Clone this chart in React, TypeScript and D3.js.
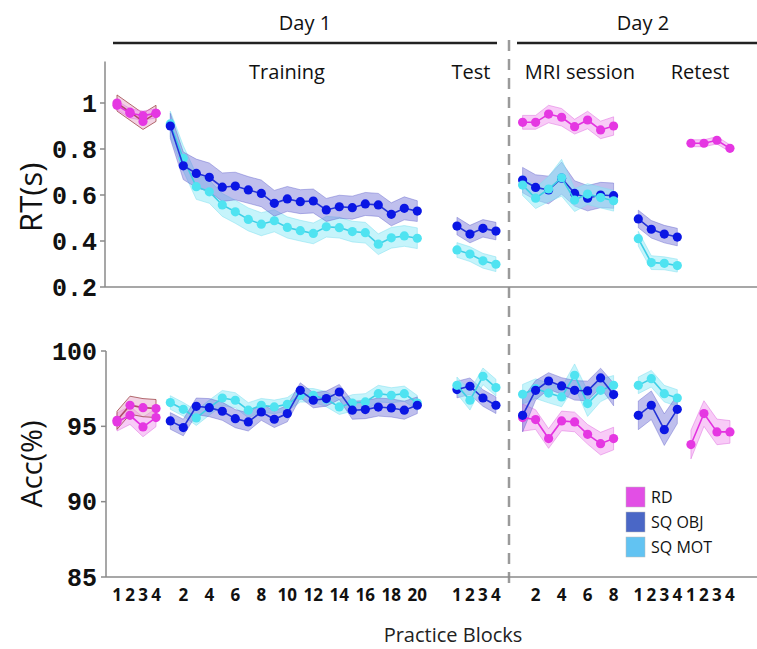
import React from 'react';
import * as d3 from 'd3';

// ---------- DATA ----------
// RT (s)
const rtRdDay1A = [0.99, 0.955, 0.945, 0.955];
const rtRdDay1AErr = [0.02, 0.02, 0.02, 0.02];
const rtRdDay1B = [1.0, 0.96, 0.92, 0.955];
const rtRdDay1BErr = [0.035, 0.035, 0.035, 0.035];
const rtObjTraining = [0.9, 0.727, 0.694, 0.677, 0.634, 0.639, 0.622, 0.607, 0.564, 0.583, 0.571, 0.574, 0.535, 0.549, 0.545, 0.561, 0.557, 0.516, 0.542, 0.53];
const rtObjTrainingErr = [0.055, 0.06, 0.062, 0.062, 0.062, 0.06, 0.058, 0.058, 0.056, 0.054, 0.052, 0.052, 0.05, 0.05, 0.05, 0.05, 0.05, 0.05, 0.05, 0.045];
const rtMotTraining = [0.909, 0.759, 0.636, 0.614, 0.557, 0.527, 0.494, 0.473, 0.488, 0.459, 0.445, 0.433, 0.462, 0.458, 0.441, 0.436, 0.386, 0.414, 0.422, 0.412];
const rtMotTrainingErr = [0.055, 0.055, 0.055, 0.05, 0.05, 0.05, 0.05, 0.05, 0.048, 0.046, 0.045, 0.045, 0.045, 0.045, 0.045, 0.045, 0.045, 0.045, 0.045, 0.045];
const rtObjTest = [0.465, 0.43, 0.455, 0.443];
const rtObjTestErr = [0.038, 0.038, 0.038, 0.038];
const rtMotTest = [0.361, 0.343, 0.314, 0.299];
const rtMotTestErr = [0.032, 0.032, 0.032, 0.032];
const rtRdMri = [0.916, 0.916, 0.952, 0.938, 0.897, 0.926, 0.883, 0.9];
const rtRdMriErr = [0.03, 0.03, 0.038, 0.038, 0.032, 0.038, 0.038, 0.04];
const rtObjMri = [0.665, 0.633, 0.622, 0.673, 0.607, 0.586, 0.6, 0.597];
const rtObjMriErr = [0.055, 0.055, 0.06, 0.07, 0.055, 0.055, 0.055, 0.055];
const rtMotMri = [0.643, 0.586, 0.626, 0.675, 0.578, 0.604, 0.589, 0.575];
const rtMotMriErr = [0.045, 0.045, 0.055, 0.08, 0.05, 0.045, 0.045, 0.045];
const rtObjRetest = [0.496, 0.451, 0.43, 0.417];
const rtObjRetestErr = [0.038, 0.038, 0.038, 0.038];
const rtMotRetest = [0.41, 0.306, 0.303, 0.293];
const rtMotRetestErr = [0.032, 0.03, 0.028, 0.028];
const rtRdRetest = [0.825, 0.825, 0.838, 0.803];
const rtRdRetestErr = [0.015, 0.015, 0.016, 0.015];

// Accuracy (%)
const accRdDay1A = [95.29, 95.73, 94.96, 95.58];
const accRdDay1AErr = [0.6, 0.6, 0.65, 0.6];
const accRdDay1B = [95.4, 96.4, 96.24, 96.18];
const accRdDay1BErr = [0.6, 0.6, 0.6, 0.6];
const accObjTraining = [95.36, 94.92, 96.33, 96.24, 96.0, 95.51, 95.29, 95.95, 95.47, 95.85, 97.39, 96.73, 96.84, 97.28, 96.07, 96.11, 96.28, 96.22, 96.07, 96.4];
const accObjTrainingErr = [0.55, 0.55, 0.55, 0.6, 0.6, 0.6, 0.6, 0.55, 0.55, 0.55, 0.5, 0.5, 0.5, 0.5, 0.6, 0.6, 0.6, 0.6, 0.6, 0.55];
const accMotTraining = [96.58, 96.13, 95.56, 96.24, 96.88, 96.73, 96.07, 96.4, 96.29, 96.46, 97.06, 97.06, 96.8, 96.29, 96.55, 96.62, 97.17, 97.06, 97.17, 96.55];
const accMotTrainingErr = [0.45, 0.45, 0.5, 0.5, 0.5, 0.5, 0.5, 0.45, 0.45, 0.45, 0.45, 0.45, 0.5, 0.5, 0.55, 0.55, 0.55, 0.5, 0.5, 0.5];
const accObjTest = [97.44, 97.66, 96.88, 96.4];
const accObjTestErr = [0.55, 0.55, 0.55, 0.55];
const accMotTest = [97.72, 96.73, 98.32, 97.57];
const accMotTestErr = [0.55, 0.65, 0.55, 0.55];
const accRdMri = [95.58, 95.45, 94.19, 95.36, 95.29, 94.47, 93.85, 94.19];
const accRdMriErr = [0.9, 0.65, 0.65, 0.65, 0.65, 0.65, 0.75, 0.75];
const accObjMri = [95.73, 97.39, 98.01, 97.68, 97.39, 97.35, 98.21, 97.11];
const accObjMriErr = [1.1, 0.65, 0.55, 0.55, 0.65, 0.65, 0.65, 0.75];
const accMotMri = [97.13, 97.5, 97.21, 96.95, 98.39, 96.51, 97.39, 97.72];
const accMotMriErr = [0.65, 0.65, 0.65, 0.65, 0.75, 0.85, 0.75, 0.65];
const accObjRetest = [95.73, 96.4, 94.78, 96.13];
const accObjRetestErr = [0.95, 0.95, 1.05, 0.95];
const accMotRetest = [97.72, 98.16, 97.17, 96.88];
const accMotRetestErr = [0.55, 0.55, 0.55, 0.55];
const accRdRetest = [93.79, 95.85, 94.63, 94.63];
const accRdRetestErr = [0.95, 0.85, 0.85, 0.75];

// Tick labels
const rtTicks = [0.2, 0.4, 0.6, 0.8, 1];
const accTicks = [85, 90, 95, 100];
const day1RdTicks = ['1', '2', '3', '4'];
const trainingTicks = ['2', '4', '6', '8', '10', '12', '14', '16', '18', '20'];
const testTicks = ['1', '2', '3', '4'];
const mriTicks = ['2', '4', '6', '8'];
const retestSqTicks = ['1', '2', '3', '4'];
const retestRdTicks = ['1', '2', '3', '4'];

const legendLabels = ['RD', 'SQ OBJ', 'SQ MOT'];

// ---------- LAYOUT ----------
const W = 757;
const H = 649;
const groupStart: Record<string, number> = {
  day1Rd: 0,
  training: 4.1,
  test: 26.15,
  mri: 31.2,
  retestSq: 40.1,
  retestRd: 44.15,
};

const x = d3.scaleLinear().domain([0, 49]).range([117, 117 + 49 * 13]);
const yRT = d3.scaleLinear().domain([0.2, 1.18]).range([287, 61.6]);
const yAcc = d3.scaleLinear().domain([85, 100]).range([577, 351]);

type Style = { line: string; dot: string; fill: string; fillOp: number; edge: string; edgeOp: number };
const styles: Record<string, Style> = {
  rd: { line: '#e332e0', dot: '#e537e2', fill: '#ef8cee', fillOp: 0.45, edge: '#e070e0', edgeOp: 0.5 },
  rdB: { line: '#b04a6a', dot: '#e537e2', fill: '#e6a6c8', fillOp: 0.5, edge: '#a0484c', edgeOp: 0.8 },
  obj: { line: '#2433d6', dot: '#0a16e4', fill: '#7070d6', fillOp: 0.45, edge: '#5a5ac8', edgeOp: 0.4 },
  mot: { line: '#3fcfe6', dot: '#4fe3f1', fill: '#8eeaf8', fillOp: 0.5, edge: '#80e0f0', edgeOp: 0.5 },
};
const legendColors = ['#e24fe5', '#4a67c6', '#62c3f2'];

type S = { key: string; group: string; values: number[]; errors: number[]; style: string };

const rtSeries: S[] = [
  { key: 'rtRdB', group: 'day1Rd', values: rtRdDay1B, errors: rtRdDay1BErr, style: 'rdB' },
  { key: 'rtRdA', group: 'day1Rd', values: rtRdDay1A, errors: rtRdDay1AErr, style: 'rd' },
  { key: 'rtMotT', group: 'training', values: rtMotTraining, errors: rtMotTrainingErr, style: 'mot' },
  { key: 'rtObjT', group: 'training', values: rtObjTraining, errors: rtObjTrainingErr, style: 'obj' },
  { key: 'rtMotTe', group: 'test', values: rtMotTest, errors: rtMotTestErr, style: 'mot' },
  { key: 'rtObjTe', group: 'test', values: rtObjTest, errors: rtObjTestErr, style: 'obj' },
  { key: 'rtRdM', group: 'mri', values: rtRdMri, errors: rtRdMriErr, style: 'rd' },
  { key: 'rtObjM', group: 'mri', values: rtObjMri, errors: rtObjMriErr, style: 'obj' },
  { key: 'rtMotM', group: 'mri', values: rtMotMri, errors: rtMotMriErr, style: 'mot' },
  { key: 'rtObjR', group: 'retestSq', values: rtObjRetest, errors: rtObjRetestErr, style: 'obj' },
  { key: 'rtMotR', group: 'retestSq', values: rtMotRetest, errors: rtMotRetestErr, style: 'mot' },
  { key: 'rtRdR', group: 'retestRd', values: rtRdRetest, errors: rtRdRetestErr, style: 'rd' },
];

const accSeries: S[] = [
  { key: 'acRdA', group: 'day1Rd', values: accRdDay1A, errors: accRdDay1AErr, style: 'rd' },
  { key: 'acRdB', group: 'day1Rd', values: accRdDay1B, errors: accRdDay1BErr, style: 'rdB' },
  { key: 'acMotT', group: 'training', values: accMotTraining, errors: accMotTrainingErr, style: 'mot' },
  { key: 'acObjT', group: 'training', values: accObjTraining, errors: accObjTrainingErr, style: 'obj' },
  { key: 'acObjTe', group: 'test', values: accObjTest, errors: accObjTestErr, style: 'obj' },
  { key: 'acMotTe', group: 'test', values: accMotTest, errors: accMotTestErr, style: 'mot' },
  { key: 'acRdM', group: 'mri', values: accRdMri, errors: accRdMriErr, style: 'rd' },
  { key: 'acMotM', group: 'mri', values: accMotMri, errors: accMotMriErr, style: 'mot' },
  { key: 'acObjM', group: 'mri', values: accObjMri, errors: accObjMriErr, style: 'obj' },
  { key: 'acMotR', group: 'retestSq', values: accMotRetest, errors: accMotRetestErr, style: 'mot' },
  { key: 'acObjR', group: 'retestSq', values: accObjRetest, errors: accObjRetestErr, style: 'obj' },
  { key: 'acRdR', group: 'retestRd', values: accRdRetest, errors: accRdRetestErr, style: 'rd' },
];

const tickGroups: { group: string; labels: string[] }[] = [
  { group: 'day1Rd', labels: day1RdTicks },
  { group: 'training', labels: trainingTicks },
  { group: 'test', labels: testTicks },
  { group: 'mri', labels: mriTicks },
  { group: 'retestSq', labels: retestSqTicks },
  { group: 'retestRd', labels: retestRdTicks },
];

const sans = "'Open Sans', 'DejaVu Sans', sans-serif";
const mono = "'Liberation Mono', 'Courier New', monospace";

function SeriesLayer({ series, y }: { series: S[]; y: d3.ScaleLinear<number, number> }) {
  return (
    <g>
      {series.map((s) => {
        const st = styles[s.style];
        const start = groupStart[s.group];
        const pts = s.values.map((v, i) => ({ i, v, e: s.errors[i] }));
        const area = d3
          .area<{ i: number; v: number; e: number }>()
          .x((d) => x(start + d.i))
          .y0((d) => y(d.v - d.e))
          .y1((d) => y(d.v + d.e));
        return (
          <path key={s.key + 'b'} d={area(pts) || ''} fill={st.fill} fillOpacity={st.fillOp} stroke={st.edge} strokeOpacity={st.edgeOp} strokeWidth={1} />
        );
      })}
      {series.map((s) => {
        const st = styles[s.style];
        const start = groupStart[s.group];
        const line = d3
          .line<number>()
          .x((_, i) => x(start + i))
          .y((v) => y(v));
        return (
          <g key={s.key + 'l'}>
            <path d={line(s.values) || ''} fill="none" stroke={st.line} strokeWidth={1.6} />
            {s.values.map((v, i) => (
              <circle key={i} cx={x(start + i)} cy={y(v)} r={4.6} fill={st.dot} />
            ))}
          </g>
        );
      })}
    </g>
  );
}

export default function App() {
  const axisColor = '#8a8a8a';
  return (
    <svg width={W} height={H} viewBox={`0 0 ${W} ${H}`} style={{ position: 'absolute', left: 0, top: 0, background: '#fff' }}>
      <rect width={W} height={H} fill="#fff" />
      {/* Header */}
      <text x={305} y={30} fontFamily={sans} fontSize={20} textAnchor="middle" fill="#111">Day 1</text>
      <text x={643} y={30} fontFamily={sans} fontSize={20} textAnchor="middle" fill="#111">Day 2</text>
      <line x1={113} x2={497} y1={43} y2={43} stroke="#222" strokeWidth={2.5} />
      <line x1={517} x2={757} y1={43} y2={43} stroke="#222" strokeWidth={2.5} />
      <text x={287} y={79} fontFamily={sans} fontSize={20} textAnchor="middle" fill="#111">Training</text>
      <text x={471} y={79} fontFamily={sans} fontSize={20} textAnchor="middle" fill="#111">Test</text>
      <text x={580} y={79} fontFamily={sans} fontSize={20} textAnchor="middle" fill="#111">MRI session</text>
      <text x={700} y={79} fontFamily={sans} fontSize={20} textAnchor="middle" fill="#111">Retest</text>

      {/* dashed divider */}
      <line x1={509} x2={509} y1={40} y2={586} stroke="#9a9a9a" strokeWidth={2.5} strokeDasharray="11 8" />

      {/* Top axes */}
      <line x1={105} x2={105} y1={yRT(1.18)} y2={yRT(0.2)} stroke={axisColor} strokeWidth={1.5} />
      <line x1={105} x2={W} y1={yRT(0.2)} y2={yRT(0.2)} stroke={axisColor} strokeWidth={1.5} />
      {rtTicks.map((t) => (
        <g key={t}>
          <line x1={100} x2={105} y1={yRT(t)} y2={yRT(t)} stroke={axisColor} strokeWidth={1.5} />
          <text x={97} y={yRT(t)} dy="0.35em" textAnchor="end" fontFamily={mono} fontWeight="bold" fontSize={25} fill="#111">
            {t === 1 ? '1' : t.toFixed(1)}
          </text>
        </g>
      ))}
      <text transform={`translate(42,${yRT(0.59)}) rotate(-90)`} textAnchor="middle" fontFamily={sans} fontSize={31} fill="#111">RT(s)</text>

      {/* Bottom axes */}
      <line x1={106} x2={106} y1={yAcc(100)} y2={yAcc(85)} stroke={axisColor} strokeWidth={1.5} />
      <line x1={106} x2={W} y1={yAcc(85)} y2={yAcc(85)} stroke={axisColor} strokeWidth={1.5} />
      {accTicks.map((t) => (
        <g key={t}>
          <line x1={101} x2={106} y1={yAcc(t)} y2={yAcc(t)} stroke={axisColor} strokeWidth={1.5} />
          <text x={97} y={yAcc(t)} dy="0.35em" textAnchor="end" fontFamily={mono} fontWeight="bold" fontSize={25} fill="#111">
            {t}
          </text>
        </g>
      ))}
      <text transform={`translate(42,${yAcc(92.5)}) rotate(-90)`} textAnchor="middle" fontFamily={sans} fontSize={29} fill="#111">Acc(%)</text>

      <SeriesLayer series={rtSeries} y={yRT} />
      <SeriesLayer series={accSeries} y={yAcc} />

      {/* x tick labels */}
      {tickGroups.map((g) =>
        g.labels.map((l) => (
          <text key={g.group + l} x={x(groupStart[g.group] + (+l - 1))} y={601} textAnchor="middle" fontFamily={sans} fontWeight="bold" fontSize={17} fill="#111">
            {l}
          </text>
        ))
      )}
      <text x={453} y={642} textAnchor="middle" fontFamily={sans} fontSize={20} fill="#222">Practice Blocks</text>

      {/* Legend */}
      {legendLabels.map((l, i) => (
        <g key={l} transform={`translate(626,${487 + i * 25})`}>
          <rect width={19} height={20} fill={legendColors[i]} stroke="#bbb" strokeWidth={0.5} />
          <text x={25} y={10} dy="0.35em" fontFamily={sans} fontSize={16} fill="#111">{l}</text>
        </g>
      ))}
    </svg>
  );
}
